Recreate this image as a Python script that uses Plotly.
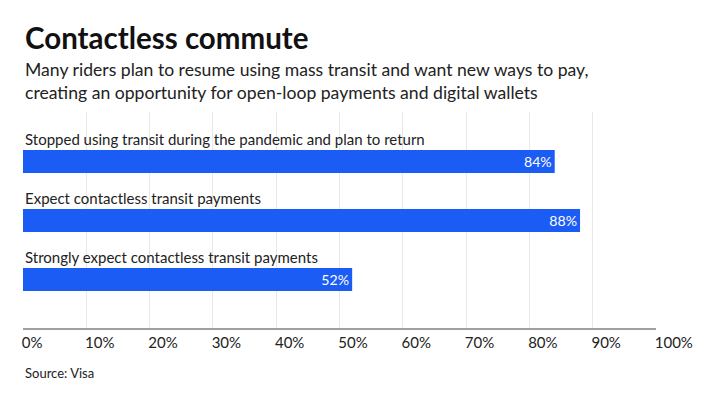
import plotly.graph_objects as go

# data
categories = [
    "Stopped using transit during the pandemic and plan to return",
    "Expect contactless transit payments",
    "Strongly expect contactless transit payments",
]
values = [84, 88, 52]
tick_vals = [0, 10, 20, 30, 40, 50, 60, 70, 80, 90, 100]
tick_text = [f"{t}%" for t in tick_vals]

BLUE = "#1b5cf5"
FONT = "Lato, 'Open Sans', sans-serif"

pos = list(range(len(categories)))

fig = go.Figure()
fig.add_trace(go.Bar(
    x=values,
    y=pos,
    orientation="h",
    width=0.39,
    marker=dict(color=BLUE, line=dict(width=0)),
    text=[f"{v}%" for v in values],
    textposition="inside",
    insidetextanchor="end",
    textfont=dict(family=FONT, size=15, color="white"),
    hoverinfo="skip",
))

# category labels above each bar
for p, c in zip(pos, categories):
    fig.add_annotation(
        x=0, y=p - 0.38, xref="x", yref="y",
        text=c, showarrow=False,
        xanchor="left", yanchor="middle",
        font=dict(family=FONT, size=15, color="#222"),
    )

# title, subtitle and source
fig.add_annotation(
    x=0, y=1.3426, xref="paper", yref="paper",
    text="<b>Contactless commute</b>", showarrow=False,
    xanchor="left", yanchor="middle",
    font=dict(family=FONT, size=29.5, color="#111"),
)
fig.add_annotation(
    x=0, y=1.1435, xref="paper", yref="paper",
    text="Many riders plan to resume using mass transit and want new ways to pay,<br>"
         "creating an opportunity for open-loop payments and digital wallets",
    showarrow=False, align="left",
    xanchor="left", yanchor="middle",
    font=dict(family=FONT, size=17.6, color="#222"),
)
fig.add_annotation(
    x=0, y=-0.208, xref="paper", yref="paper",
    text="Source: Visa", showarrow=False,
    xanchor="left", yanchor="middle",
    font=dict(family=FONT, size=13, color="#222"),
)

# page body has an 8px margin, so the figure is offset by 8px
fig.update_layout(
    width=711, height=400,
    margin=dict(l=15, r=63, t=104, b=80, autoexpand=False),
    paper_bgcolor="white", plot_bgcolor="white",
    showlegend=False,
    xaxis=dict(
        range=[0, 100],
        tickmode="array",
        tickvals=tick_vals,
        ticktext=tick_text,
        ticklabelposition="outside right",
        ticklabelshift=-2,
        tickfont=dict(family=FONT, size=15, color="#222"),
        showgrid=True, gridcolor="#e8e8e8", gridwidth=1,
        showline=True, linecolor="#a0a0a0", linewidth=1.5,
        zeroline=False, fixedrange=True,
    ),
    yaxis=dict(
        range=[2.822, -0.839],
        showticklabels=False, showgrid=False,
        zeroline=False, fixedrange=True,
    ),
)

fig.write_html("out.html")
